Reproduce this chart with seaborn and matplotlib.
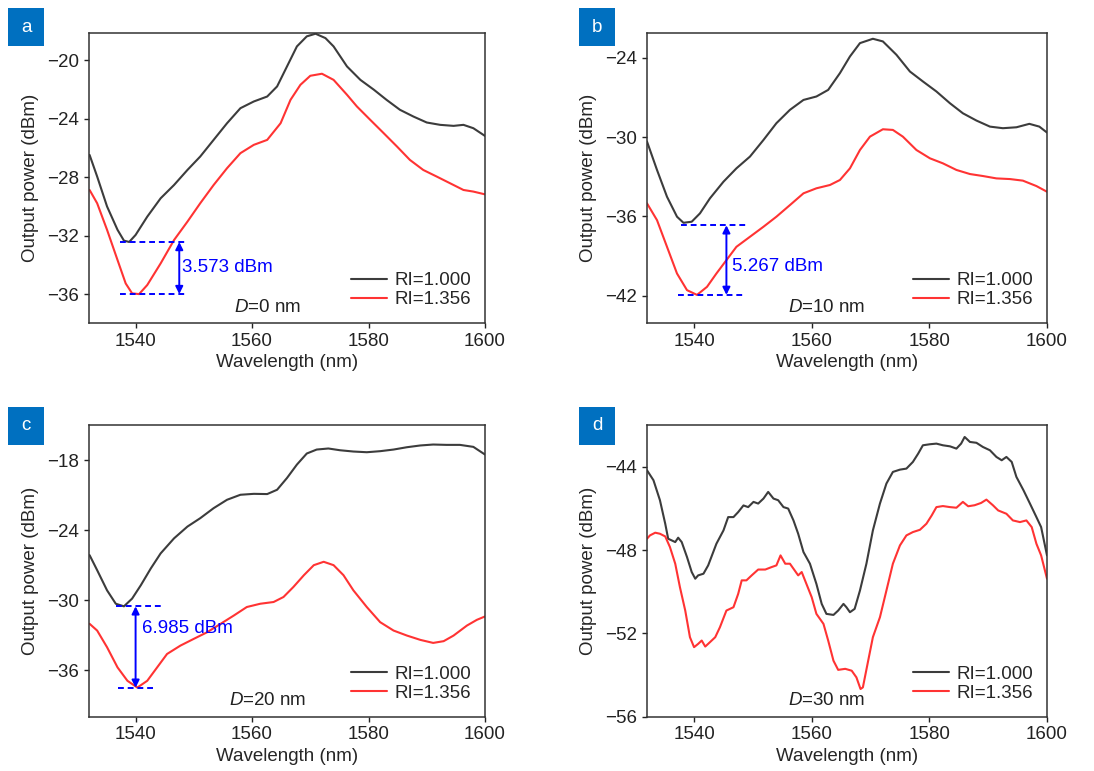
import numpy as np
import pandas as pd
import seaborn as sns
import matplotlib
matplotlib.use("Agg")
import matplotlib.pyplot as plt
from matplotlib.patches import Rectangle

sns.set_style("ticks")
plt.rcParams['font.family'] = ['Liberation Sans', 'DejaVu Sans']
plt.rcParams['mathtext.fontset'] = 'custom'
plt.rcParams['mathtext.it'] = 'Liberation Sans:italic'
plt.rcParams['mathtext.rm'] = 'Liberation Sans'

# ---------------- data ----------------
# Panel a (D=0 nm)
a_x1 = [1532.1, 1533.4, 1535.1, 1536.9, 1538.0, 1538.9, 1540.0, 1542.0, 1544.3, 1546.6, 1548.9, 1551.1,
        1553.4, 1555.7, 1558.0, 1560.3, 1562.6, 1564.3, 1566.0, 1567.7, 1569.4, 1570.9, 1572.6, 1574.0,
        1576.3, 1578.6, 1580.9, 1583.1, 1585.4, 1587.7, 1590.0, 1592.3, 1594.6, 1596.3, 1598.0, 1600.0]
a_y1 = [-26.47, -27.95, -30.0, -31.6, -32.34, -32.43, -31.95, -30.7, -29.44, -28.53, -27.5, -26.58,
        -25.44, -24.3, -23.27, -22.81, -22.47, -21.78, -20.41, -19.04, -18.35, -18.17, -18.47, -19.04,
        -20.41, -21.33, -22.0, -22.7, -23.38, -23.84, -24.25, -24.41, -24.48, -24.41, -24.64, -25.17]
a_x2 = [1532.1, 1533.4, 1535.1, 1536.9, 1538.3, 1539.4, 1540.6, 1542.0, 1544.3, 1546.6, 1548.9, 1551.1,
        1553.4, 1555.7, 1558.0, 1560.3, 1562.6, 1564.9, 1566.6, 1568.3, 1570.0, 1572.0, 1574.0, 1576.3,
        1578.0, 1580.3, 1582.6, 1584.9, 1587.1, 1589.4, 1591.7, 1594.0, 1596.3, 1598.0, 1600.0]
a_y2 = [-28.87, -29.78, -31.6, -33.67, -35.27, -35.95, -36.0, -35.38, -33.9, -32.3, -31.04, -29.78,
        -28.53, -27.38, -26.35, -25.78, -25.44, -24.3, -22.7, -21.67, -21.05, -20.91, -21.33, -22.35,
        -23.15, -24.07, -24.98, -25.9, -26.81, -27.5, -27.95, -28.41, -28.87, -28.98, -29.17]

# Panel b (D=10 nm)
b_x1 = [1532.0, 1533.7, 1535.4, 1537.1, 1538.2, 1539.6, 1541.0, 1542.7, 1545.0, 1547.2, 1549.5, 1551.8,
        1554.0, 1556.3, 1558.6, 1560.8, 1562.8, 1564.8, 1566.5, 1568.2, 1570.4, 1572.1, 1574.4, 1576.7,
        1578.9, 1581.2, 1583.5, 1585.7, 1588.0, 1590.3, 1592.5, 1594.8, 1597.0, 1598.7, 1600.0]
b_y1 = [-30.34, -32.49, -34.52, -36.03, -36.49, -36.41, -35.78, -34.64, -33.38, -32.37, -31.48, -30.22,
        -28.95, -27.94, -27.19, -26.93, -26.43, -25.16, -23.9, -22.89, -22.56, -22.76, -23.77, -25.04,
        -25.79, -26.55, -27.44, -28.2, -28.75, -29.21, -29.33, -29.26, -29.0, -29.21, -29.66]
b_x2 = [1532.0, 1533.7, 1535.4, 1537.1, 1538.8, 1540.5, 1542.2, 1543.8, 1545.5, 1547.2, 1549.5, 1551.8,
        1554.0, 1556.3, 1558.6, 1560.8, 1563.1, 1564.8, 1566.5, 1568.2, 1569.9, 1572.1, 1573.8, 1575.5,
        1577.8, 1580.1, 1582.3, 1584.6, 1586.9, 1589.1, 1591.4, 1593.7, 1595.9, 1598.2, 1600.0]
b_y2 = [-35.02, -36.29, -38.31, -40.33, -41.59, -41.95, -41.34, -40.33, -39.32, -38.31, -37.55, -36.79,
        -36.03, -35.15, -34.26, -33.88, -33.63, -33.25, -32.37, -30.98, -29.97, -29.41, -29.46, -29.97,
        -30.98, -31.61, -31.99, -32.49, -32.8, -32.95, -33.13, -33.18, -33.3, -33.71, -34.14]

# Panel c (D=20 nm)
c_x1 = [1532.1, 1533.4, 1535.1, 1536.6, 1538.0, 1539.4, 1540.9, 1542.6, 1544.3, 1546.6, 1548.9, 1551.1,
        1553.4, 1555.7, 1558.0, 1560.3, 1562.6, 1564.3, 1566.0, 1567.7, 1569.4, 1571.1, 1573.1, 1575.1,
        1577.4, 1579.7, 1582.0, 1584.3, 1586.6, 1588.9, 1591.1, 1593.4, 1595.7, 1598.0, 1600.0]
c_y1 = [-26.14, -27.43, -29.16, -30.31, -30.53, -29.87, -28.72, -27.29, -25.99, -24.7, -23.69, -22.97,
        -22.11, -21.39, -20.96, -20.88, -20.9, -20.53, -19.52, -18.37, -17.42, -17.08, -16.99, -17.14,
        -17.25, -17.31, -17.22, -17.08, -16.88, -16.73, -16.65, -16.68, -16.68, -16.85, -17.51]
c_x2 = [1532.1, 1533.4, 1535.1, 1536.9, 1538.6, 1540.3, 1542.0, 1543.7, 1545.4, 1547.7, 1550.0, 1552.3,
        1554.6, 1556.9, 1559.1, 1561.4, 1563.7, 1565.4, 1567.1, 1568.9, 1570.6, 1572.3, 1574.0, 1575.7,
        1577.4, 1579.7, 1582.0, 1584.3, 1586.6, 1588.9, 1591.1, 1592.9, 1594.6, 1596.9, 1598.6, 1600.0]
c_y2 = [-32.03, -32.61, -34.04, -35.77, -36.92, -37.5, -36.92, -35.77, -34.62, -33.9, -33.32, -32.75,
        -32.03, -31.31, -30.59, -30.31, -30.16, -29.73, -28.87, -27.86, -27.0, -26.71, -27.0, -27.86,
        -29.16, -30.59, -31.89, -32.61, -33.04, -33.41, -33.67, -33.52, -33.04, -32.18, -31.69, -31.4]

# Panel d (D=30 nm)
d_x1 = [1532.0, 1533.1, 1534.2, 1535.1, 1535.6, 1536.2, 1536.8, 1537.3, 1537.9, 1538.8, 1539.6, 1540.2,
        1540.7, 1541.6, 1542.4, 1543.8, 1545.0, 1545.8, 1546.7, 1547.5, 1548.4, 1549.2, 1550.1, 1550.9,
        1551.8, 1552.6, 1553.5, 1554.3, 1555.2, 1556.0, 1556.9, 1557.7, 1558.6, 1559.7, 1560.8, 1561.7,
        1562.5, 1563.7, 1564.5, 1565.4, 1565.9, 1566.5, 1567.3, 1568.2, 1569.3, 1570.4, 1571.6, 1572.7,
        1573.8, 1575.0, 1576.1, 1577.2, 1578.1, 1578.9, 1580.1, 1581.2, 1582.3, 1583.5, 1584.6, 1585.4,
        1586.0, 1586.9, 1588.0, 1589.1, 1590.3, 1591.4, 1592.3, 1593.1, 1594.0, 1594.8, 1596.0, 1597.1,
        1598.2, 1599.0, 1600.0]
d_y1 = [-44.16, -44.64, -45.6, -46.73, -47.45, -47.53, -47.61, -47.4, -47.61, -48.33, -49.05, -49.37,
        -49.21, -49.13, -48.73, -47.69, -47.05, -46.41, -46.41, -46.17, -45.85, -45.93, -45.68, -45.76,
        -45.52, -45.2, -45.52, -45.6, -45.93, -46.0, -46.57, -47.21, -48.09, -48.65, -49.62, -50.58,
        -51.06, -51.11, -50.9, -50.58, -50.74, -50.98, -50.82, -49.94, -48.65, -47.05, -45.76, -44.8,
        -44.24, -44.13, -44.08, -43.76, -43.36, -42.96, -42.91, -42.88, -42.96, -43.01, -43.12, -42.88,
        -42.56, -42.8, -42.84, -43.04, -43.2, -43.52, -43.68, -43.52, -43.76, -44.48, -45.12, -45.76,
        -46.41, -46.89, -48.25]
d_x2 = [1532.0, 1532.5, 1533.4, 1534.2, 1535.1, 1535.9, 1536.8, 1537.6, 1538.5, 1539.3, 1540.0, 1540.7,
        1541.3, 1541.9, 1542.7, 1543.6, 1544.4, 1545.5, 1546.7, 1547.5, 1548.1, 1548.9, 1549.8, 1550.9,
        1552.1, 1553.2, 1554.0, 1554.7, 1555.5, 1556.3, 1557.1, 1557.7, 1558.3, 1559.1, 1560.0, 1560.8,
        1562.0, 1562.8, 1563.7, 1564.5, 1565.7, 1566.8, 1567.6, 1568.3, 1568.7, 1569.6, 1570.4, 1571.6,
        1572.7, 1573.8, 1575.0, 1576.1, 1577.2, 1578.4, 1579.5, 1580.4, 1581.2, 1582.3, 1583.5, 1584.6,
        1585.7, 1586.6, 1587.7, 1588.8, 1589.7, 1590.8, 1591.7, 1593.1, 1594.2, 1595.4, 1596.5, 1597.4,
        1598.2, 1599.0, 1600.0]
d_y2 = [-47.45, -47.29, -47.16, -47.21, -47.34, -47.85, -48.65, -49.78, -50.9, -52.18, -52.66, -52.5,
        -52.34, -52.63, -52.42, -52.18, -51.7, -50.9, -50.74, -50.1, -49.45, -49.45, -49.21, -48.93,
        -48.93, -48.81, -48.73, -48.25, -48.65, -48.65, -48.97, -49.21, -49.05, -49.62, -50.26, -51.06,
        -51.54, -52.34, -53.31, -53.75, -53.7, -53.79, -54.11, -54.67, -54.59, -53.31, -52.18, -51.22,
        -49.94, -48.65, -47.77, -47.29, -47.13, -47.02, -46.73, -46.33, -45.93, -45.88, -45.93, -45.96,
        -45.68, -45.89, -45.84, -45.73, -45.57, -45.84, -46.09, -46.25, -46.57, -46.65, -46.57, -46.89,
        -47.69, -48.25, -49.37]

series_labels = ["RI=1.000", "RI=1.356"]
panel_letters = ["a", "b", "c", "d"]
d_values = [0, 10, 20, 30]
y_ticks = [[-36, -32, -28, -24, -20], [-42, -36, -30, -24], [-36, -30, -24, -18], [-56, -52, -48, -44]]
y_lims = [(-38.0, -18.1), (-44.1, -22.1), (-40.0, -15.0), (-56.0, -42.0)]
x_ticks = [1540, 1560, 1580, 1600]

# Dip-difference annotations (upper dip, lower dip, label, arrow x, dashed extents)
ann_top = [-32.43, -36.68, -30.53]
ann_bot = [-36.0, -41.95, -37.515]
ann_text = ["3.573 dBm", "5.267 dBm", "6.985 dBm"]
ann_arrow_x = [1547.5, 1545.5, 1540.0]
ann_top_span = [(1537.4, 1548.7), (1537.8, 1549.2), (1536.6, 1544.5)]
ann_bot_span = [(1537.4, 1548.7), (1537.3, 1548.8), (1536.9, 1543.4)]
ann_text_xy = [(1548.0, -34.2), (1546.4, -39.8), (1541.1, -32.4)]

panels = [(a_x1, a_y1, a_x2, a_y2), (b_x1, b_y1, b_x2, b_y2),
          (c_x1, c_y1, c_x2, c_y2), (d_x1, d_y1, d_x2, d_y2)]

# ---------------- figure ----------------
FS = 13.5
BLACK = "#3c3c3c"
RED = "#ff3333"
BLUE = "#0000ff"
fig = plt.figure(figsize=(10.94, 7.71), dpi=100)
W, H = 1094, 771
ax_px = [(89, 32.7, 396, 290.6), (647, 32.7, 400, 290.6),
         (89, 425.3, 396, 291.4), (647, 425.3, 400, 291.4)]
box_px = [(8, 8), (579, 8), (8, 407), (579, 407)]

for i, (x1, y1, x2, y2) in enumerate(panels):
    l, t, w, h = ax_px[i]
    ax = fig.add_axes([l / W, 1 - (t + h) / H, w / W, h / H])
    df = pd.concat([
        pd.DataFrame({"Wavelength": x1, "Power": y1, "RI": series_labels[0]}),
        pd.DataFrame({"Wavelength": x2, "Power": y2, "RI": series_labels[1]}),
    ])
    sns.lineplot(data=df, x="Wavelength", y="Power", hue="RI",
                 palette={series_labels[0]: BLACK, series_labels[1]: RED},
                 lw=1.5, ax=ax, estimator=None, sort=False)
    ax.set_xlim(1532, 1600)
    ax.set_ylim(*y_lims[i])
    ax.set_xticks(x_ticks)
    ax.set_yticks(y_ticks[i])
    ax.tick_params(labelsize=FS, direction="out", length=3.5, width=1.0, colors="#222222")
    for s in ax.spines.values():
        s.set_visible(True)
        s.set_linewidth(1.1)
        s.set_color("#333333")
    ax.set_xlabel("Wavelength (nm)", fontsize=FS, labelpad=3)
    ax.set_ylabel("Output power (dBm)", fontsize=FS, labelpad=6)

    leg = ax.legend(loc="lower right", bbox_to_anchor=(0.965, 0.052), frameon=False,
                    fontsize=FS, handlelength=1.9, handletextpad=0.4, labelspacing=0.1,
                    borderpad=0, borderaxespad=0)
    for ln in leg.get_lines():
        ln.set_linewidth(1.5)

    ax.text(0.45, 0.056, r"$\mathit{D}$=%d nm" % d_values[i], transform=ax.transAxes,
            ha="center", va="center", fontsize=FS, color="#222222")

    if i < 3:
        ax.plot(list(ann_top_span[i]), [ann_top[i]] * 2, ls=(0, (3, 2)), color=BLUE, lw=1.4)
        ax.plot(list(ann_bot_span[i]), [ann_bot[i]] * 2, ls=(0, (3, 2)), color=BLUE, lw=1.4)
        ax.annotate("", xy=(ann_arrow_x[i], ann_top[i]), xytext=(ann_arrow_x[i], ann_bot[i]),
                    arrowprops=dict(arrowstyle="<|-|>", color=BLUE, lw=1.4,
                                    mutation_scale=11, shrinkA=0, shrinkB=0))
        ax.text(ann_text_xy[i][0], ann_text_xy[i][1], ann_text[i], color=BLUE,
                fontsize=FS, ha="left", va="center")

    bx, by = box_px[i]
    fig.add_artist(Rectangle((bx / W, 1 - (by + 38) / H), 36 / W, 38 / H,
                             transform=fig.transFigure, facecolor="#0070c0", edgecolor="none"))
    fig.text((bx + 18) / W, 1 - (by + 19) / H, panel_letters[i], color="white",
             fontsize=FS, ha="center", va="center")

fig.savefig("out.png", dpi=100)
